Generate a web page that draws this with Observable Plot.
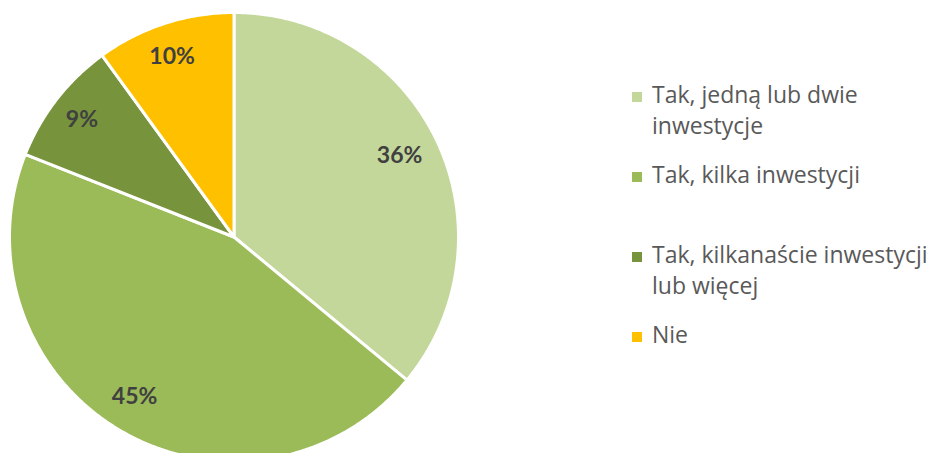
<!DOCTYPE html>
<html>
<head>
<meta charset="utf-8">
<script src="https://cdn.jsdelivr.net/npm/d3@7"></script>
<script src="https://cdn.jsdelivr.net/npm/@observablehq/plot@0.6"></script>
<style>
  html, body { margin: 0; padding: 0; background: #fff; }
  #wrap { position: relative; width: 935px; height: 453px; overflow: hidden; }
  #chart { position: absolute; left: 0; top: 0; }
  #legend { position: absolute; left: 632px; top: 79px; width: 303px;
            font-family: "Open Sans", sans-serif; font-size: 23px; line-height: 31px; color: #595959; }
  .item { height: 80px; display: flex; align-items: flex-start; }
  .sw { flex: none; width: 10px; height: 10px; margin-top: 13px; margin-right: 10px; }
  .txt { width: 283px; }
</style>
</head>
<body>
<div id="wrap">
  <div id="chart"></div>
  <div id="legend"></div>
</div>
<script>
const categories = ["Tak, jedną lub dwie inwestycje", "Tak, kilka inwestycji", "Tak, kilkanaście inwestycji lub więcej", "Nie"];
const values = [36, 45, 9, 10];
const labels = ["36%", "45%", "9%", "10%"];
const colors = ["#C4D79B", "#9BBB59", "#77933C", "#FFC000"];

// Build slice polygons in unit-circle data coordinates (angles clockwise from 12 o'clock)
const total = d3.sum(values);
let acc = 0;
const slices = [];
const labelData = [];
values.forEach((v, i) => {
  const a0 = acc / total * 2 * Math.PI;
  acc += v;
  const a1 = acc / total * 2 * Math.PI;
  const ring = [[0, 0]];
  const steps = Math.max(2, Math.ceil((a1 - a0) / (Math.PI / 360)));
  for (let k = 0; k <= steps; ++k) {
    const a = a0 + (a1 - a0) * k / steps;
    ring.push([Math.sin(a), Math.cos(a)]);
  }
  ring.push([0, 0]);
  slices.push({type: "Feature", properties: {category: categories[i]}, geometry: {type: "Polygon", coordinates: [ring]}});
  const am = (a0 + a1) / 2;
  labelData.push({x: 0.835 * Math.sin(am), y: 0.835 * Math.cos(am), label: labels[i]});
});

const cx = 233.5, cy = 236.5, R = 224.5;
const projection = d3.geoTransform({
  point(x, y) { this.stream.point(cx + R * x, cy - R * y); }
});

const chart = Plot.plot({
  width: 600,
  height: 453,
  margin: 0,
  projection,
  style: {background: "white", overflow: "visible"},
  color: {domain: categories, range: colors},
  marks: [
    Plot.geo(slices, {fill: d => d.properties.category, stroke: "white", strokeWidth: 3, strokeLinejoin: "round"}),
    Plot.text(labelData, {x: "x", y: "y", text: "label", fill: "#404040", fontSize: 23, fontWeight: "bold",
      dx: -4, dy: -2, fontFamily: "Lato, 'Open Sans', sans-serif"})
  ]
});
document.getElementById("chart").appendChild(chart);

const legend = document.getElementById("legend");
categories.forEach((c, i) => {
  const item = document.createElement("div");
  item.className = "item";
  const sw = document.createElement("span");
  sw.className = "sw";
  sw.style.background = colors[i];
  const t = document.createElement("span");
  t.className = "txt";
  t.textContent = c;
  item.appendChild(sw);
  item.appendChild(t);
  legend.appendChild(item);
});
</script>
</body>
</html>
